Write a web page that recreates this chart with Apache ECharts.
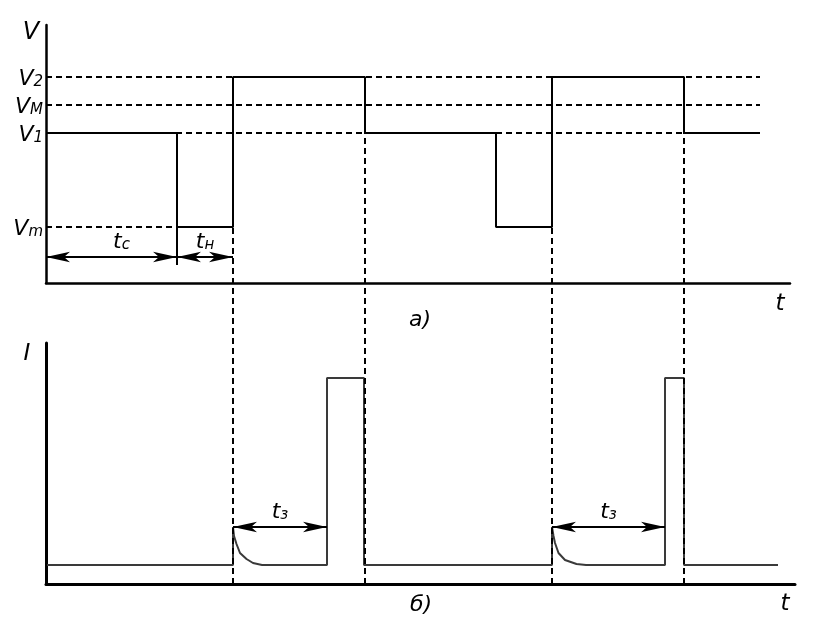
<!DOCTYPE html>
<html>
<head>
<meta charset="utf-8">
<script src="https://cdn.jsdelivr.net/npm/echarts@6/dist/echarts.min.js"></script>
<style>
  html, body { margin: 0; background: #fff; }
  #chart { width: 814px; height: 642px; }
</style>
</head>
<body>
<div id="chart"></div>
<script>
// top panel: voltage levels (label main letter + subscript)
const levelLabels = [['V', '2'], ['V', 'M'], ['V', '1'], ['V', 'm']]
const levelValues = [206, 178, 150, 56]

// top panel: voltage step signal
const voltT = [0, 131, 131, 187, 187, 319, 319, 450, 450, 506, 506, 638, 638, 714]
const voltV = [150, 150, 56, 56, 206, 206, 150, 150, 56, 56, 206, 206, 150, 150]

// bottom panel: current (incl. the two decays)
const currT = [1, 187, 187, 188, 190.5, 194, 200.5, 207, 216, 281, 281, 318, 318,
  506, 506, 507.5, 509, 512.5, 519, 530.5, 540, 619, 619, 638, 638, 732]
const currI = [19, 19, 57, 48, 40, 31, 25, 21, 19, 19, 206, 206, 19,
  19, 57, 48, 41, 31, 24, 20, 19, 19, 206, 206, 19, 19]

// switching instants (dashed verticals) and time intervals
const switchTimes = [187, 319, 506, 638]
const intervalSpans = [[0, 131], [131, 187]]
const intervalSubs = ['с', 'н']
const tzSpans = [[187, 281], [506, 619]]
const tzSubs = ['з', 'з']

const FONT = 'DejaVu Sans'
const black = '#000'

function richSub(size, drop) {
  return {
    m: { fontFamily: FONT, fontStyle: 'italic', fontSize: size, lineHeight: size + drop, verticalAlign: 'bottom', color: black },
    s: { fontFamily: FONT, fontStyle: 'italic', fontSize: Math.round(size * 0.7), lineHeight: 10, verticalAlign: 'bottom', color: black },
  }
}
const subText = (m, s) => `{m|${m}}{s|${s}}`
const zip = (a, b) => a.map((x, i) => [x, b[i]])

const dashed = { color: black, width: 2, type: [6, 4] }
const hidden = { show: false }

function plainAxis(gridIndex, max, width) {
  return {
    type: 'value', gridIndex, min: 0, max,
    axisLine: { show: true, onZero: false, lineStyle: { color: black, width } },
    axisTick: hidden, axisLabel: hidden, splitLine: hidden,
  }
}

function label(text, x, y, size) {
  return {
    type: 'text', x, y, silent: true,
    style: { text, fontFamily: FONT, fontStyle: 'italic', fontSize: size, fill: black, align: 'center', verticalAlign: 'middle' },
  }
}

const levelSeries = levelValues.map((v, i) => ({
  type: 'line', xAxisIndex: 0, yAxisIndex: 0, symbol: 'none', silent: true, z: 1,
  lineStyle: dashed,
  data: [[0, v], [i === 3 ? intervalSpans[0][1] : voltT[voltT.length - 1], v]],
}))

// double arrows with a "t_x" label above the middle
const arrowMark = (pairs, subs, y, shifts) => ({
  silent: true,
  symbol: ['arrow', 'arrow'],
  symbolSize: [8, 24],
  lineStyle: { color: black, width: 2, type: 'solid' },
  label: {
    show: true, position: 'middle', distance: 4, color: black,
    fontFamily: FONT, fontStyle: 'italic', fontSize: 22,
    formatter: p => subText('t', p.name),
    rich: richSub(22, 2),
  },
  data: pairs.map((p, i) => [
    { coord: [p[0], y], name: subs[i], label: { offset: [shifts ? shifts[i] : 0, 0] } },
    { coord: [p[1], y] },
  ]),
})

const yTop = plainAxis(0, 258, 2.5)
yTop.axisLabel = {
  show: true,
  customValues: levelValues,
  margin: 3,
  color: black,
  formatter: (v) => {
    const i = levelValues.indexOf(v)
    return i < 0 ? '' : subText(levelLabels[i][0], levelLabels[i][1])
  },
  rich: richSub(22, 4),
}

const chart = echarts.init(document.getElementById('chart'))
chart.setOption({
  animation: false,
  backgroundColor: '#fff',
  grid: [
    { left: 46, top: 25, width: 744, height: 258, outerBoundsMode: 'none' },
    { left: 46, top: 343, width: 749, height: 241, outerBoundsMode: 'none' },
    { left: 46, top: 77, width: 744, height: 507, outerBoundsMode: 'none' },
  ],
  xAxis: [
    plainAxis(0, 744, 2.5),
    plainAxis(1, 749, 3),
    { type: 'value', gridIndex: 2, min: 0, max: 744, show: false },
  ],
  yAxis: [
    yTop,
    plainAxis(1, 241, 3),
    { type: 'value', gridIndex: 2, min: 0, max: 1, show: false },
  ],
  graphic: [
    label('V', 31, 33, 24),
    label('I', 27, 354, 23),
    label('t', 780, 304, 23),
    label('t', 785, 604, 23),
    label('а)', 420, 320, 22),
    label('б)', 421, 605, 22),
  ],
  series: [
    ...levelSeries,
    {
      // V signal
      type: 'line', xAxisIndex: 0, yAxisIndex: 0, symbol: 'none', silent: true, z: 3,
      lineStyle: { color: black, width: 2 },
      data: zip(voltT, voltV),
    },
    {
      // falling edge extended down to the interval arrows, with t_c / t_н arrows
      type: 'line', xAxisIndex: 0, yAxisIndex: 0, symbol: 'none', silent: true, z: 3,
      lineStyle: { color: black, width: 2 },
      data: [[intervalSpans[0][1], levelValues[3]], [intervalSpans[0][1], 18]],
      markLine: arrowMark(intervalSpans, intervalSubs, 26, [10, 0]),
    },
    {
      // I
      type: 'line', xAxisIndex: 1, yAxisIndex: 1, symbol: 'none', silent: true, z: 3,
      lineStyle: { color: '#3a3a3a', width: 2 },
      data: zip(currT, currI),
      markLine: arrowMark(tzSpans, tzSubs, 57),
    },
    {
      // dashed switching verticals through both panels
      type: 'line', xAxisIndex: 2, yAxisIndex: 2, symbol: 'none', silent: true, z: 1,
      lineStyle: { opacity: 0 },
      data: [[0, 0]],
      markLine: {
        silent: true, symbol: 'none', label: { show: false },
        lineStyle: dashed,
        data: switchTimes.map(t => ({ xAxis: t })),
      },
    },
  ],
})
</script>
</body>
</html>
